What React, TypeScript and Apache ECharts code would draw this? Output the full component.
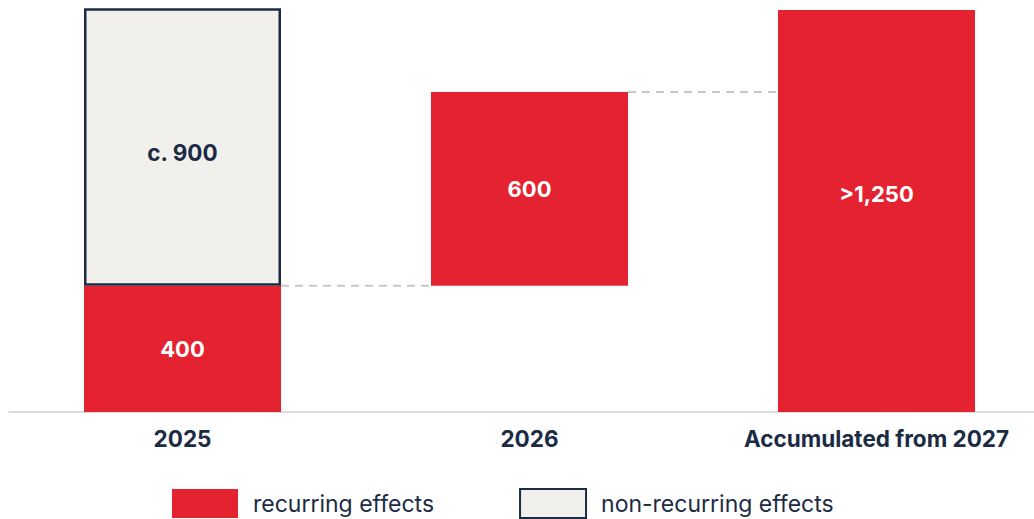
import React, { useEffect, useRef } from "react";
import * as echarts from "echarts";

const categories = ["2025", "2026", "Accumulated from 2027"];
// invisible base offsets (waterfall)
const baseValues = [0, 400, 0];
// plotted heights
const recurringValues = [400, 615, 1275];
const nonRecurringValues: (number | string)[] = [880, "-", "-"];
const recurringLabels = ["400", "600", ">1,250"];
const nonRecurringLabels = ["c. 900", "", ""];
// dashed connectors: [from category index, level]
const connectors = [
  [0, 400],
  [1, 1015],
];

const RED = "#e5222f";
const NAVY = "#1c2b45";
const PAPER = "#f2f0ec";
const FONT = "Inter, 'Noto Sans', sans-serif";

export default function App() {
  const ref = useRef<HTMLDivElement>(null);
  useEffect(() => {
    if (!ref.current) return;
    const chart = echarts.init(ref.current, undefined, { renderer: "svg" });
    const labelOffsets: Record<number, number[]> = { 2: [0, -17] };
    chart.setOption({
      animation: false,
      textStyle: { fontFamily: FONT },
      grid: { left: 9, top: 2, bottom: 107, width: 1041, containLabel: false },
      legend: {
        data: ["recurring effects", "non-recurring effects"],
        left: 172,
        top: 488,
        padding: 0,
        itemWidth: 66,
        itemHeight: 29,
        itemGap: 85,
        icon: "rect",
        textStyle: {
          fontFamily: FONT,
          fontSize: 23,
          color: NAVY,
          padding: [0, 0, 0, 10],
        },
        selectedMode: false,
      },
      xAxis: {
        type: "category",
        data: categories,
        axisTick: { show: false },
        axisLine: { lineStyle: { color: "#d0d0d0", width: 1.5 } },
        axisLabel: {
          interval: 0,
          color: NAVY,
          fontFamily: FONT,
          fontWeight: 700,
          fontSize: 22.5,
          margin: 15,
        },
      },
      yAxis: {
        type: "value",
        min: 0,
        max: 1300,
        show: false,
        splitLine: { show: false },
      },
      series: [
        {
          name: "base",
          type: "bar",
          stack: "s",
          barWidth: 197,
          data: baseValues,
          itemStyle: { color: "transparent" },
          silent: true,
        },
        {
          name: "recurring effects",
          type: "bar",
          stack: "s",
          barWidth: 197,
          data: recurringValues.map((v, i) => ({
            value: v,
            label: {
              show: true,
              position: "inside",
              formatter: recurringLabels[i],
              offset: labelOffsets[i] || [0, 0],
            },
          })),
          itemStyle: { color: RED },
          label: {
            color: "#ffffff",
            fontFamily: FONT,
            fontWeight: 700,
            fontSize: 22,
          },
        },
        {
          name: "non-recurring effects",
          type: "bar",
          stack: "s",
          barWidth: 197,
          data: nonRecurringValues,
          itemStyle: { color: PAPER, borderColor: NAVY, borderWidth: 2.5 },
          label: {
            show: true,
            position: "inside",
            offset: [0, 5],
            formatter: (p: any) => nonRecurringLabels[p.dataIndex],
            color: NAVY,
            fontFamily: FONT,
            fontWeight: 700,
            fontSize: 22.5,
          },
        },
        {
          name: "connectors",
          type: "custom",
          silent: true,
          data: connectors,
          renderItem: (params: any, api: any) => {
            const idx = api.value(0);
            const lvl = api.value(1);
            const a = api.coord([idx, lvl]);
            const b = api.coord([idx + 1, lvl]);
            const half = 197 / 2;
            return {
              type: "line",
              shape: { x1: a[0] + half, y1: a[1], x2: b[0] - half, y2: b[1] },
              style: { stroke: "#c8c8c8", lineWidth: 2, lineDash: [8, 6] },
            };
          },
          z: 1,
        },
      ],
    });
    return () => chart.dispose();
  }, []);
  return (
    <div
      style={{
        position: "fixed",
        left: 0,
        top: 0,
        width: 1034,
        height: 519,
        overflow: "hidden",
        background: "#fff",
      }}
    >
      <div ref={ref} style={{ width: 1060, height: 519 }} />
    </div>
  );
}
